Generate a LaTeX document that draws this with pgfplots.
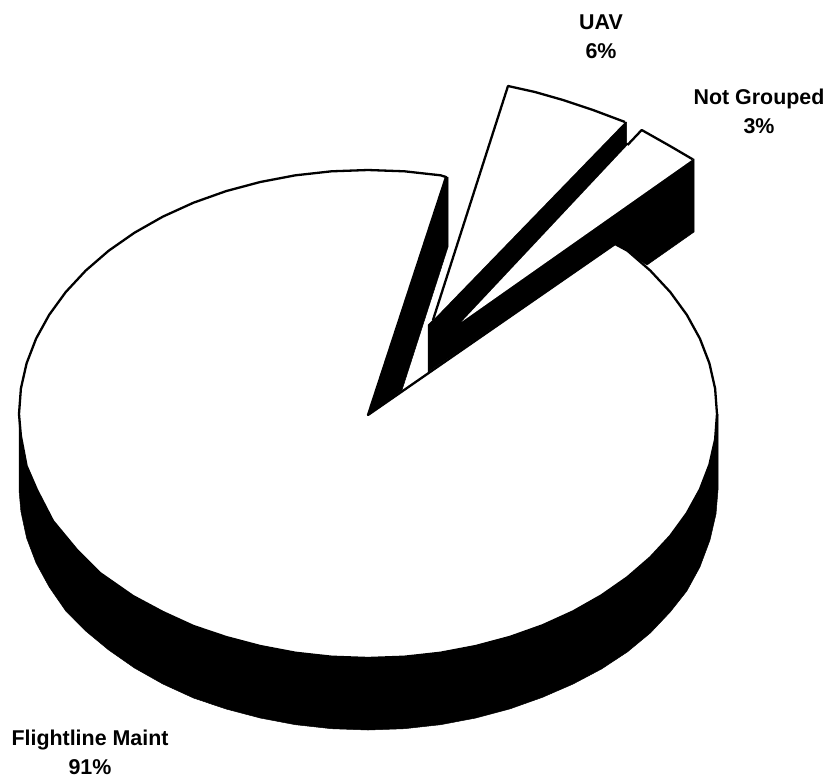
\documentclass[border=0pt]{standalone}
\usepackage{fontspec}
\setmainfont{Liberation Sans}
\usepackage{pgfplots}
\pgfplotsset{compat=1.18}

\begin{document}
\begin{tikzpicture}
\begin{axis}[
	width=828pt, height=780pt,
	scale only axis,
	hide axis,
	clip=false,
	xmin=0, xmax=828,
	ymin=0, ymax=780,
	y dir=reverse,
	every axis plot/.append style={line join=round, mark=none},
]
% keeps the page as large as the reference
\path (axis cs:0,0) rectangle (axis cs:828,780);
% side of the big slice
\addplot[fill=black, draw=black, line width=0.5pt] coordinates {
(19,414) (19,490) (20.9,511.5) (26.6,538) (36.1,563) (49.2,587) (65.8,611)
(85.7,631) (108.7,650) (134.5,668) (162.9,684) (193.5,698) (226.1,709)
(260.2,718) (295.4,724.7) (331.5,728.7) (368,730) (404.5,728.7) (440.6,724.7)
(475.8,718) (509.9,708.9) (542.5,697.3) (573.1,684) (601.5,669) (627.3,652)
(650.3,633) (670.2,612) (686.8,591) (699.9,567) (710,540) (716,514)
(718,490) (718,414)
} -- cycle;
% cut wall of the big slice
\addplot[fill=black, draw=black, line width=0.5pt] coordinates {
(368,415) (446.5,177) (448,177) (448,247) (402,390)
} -- cycle;
% walls of the two pulled out slices
\addplot[fill=black, draw=black, line width=0.5pt] coordinates {
(428,325) (433,320) (625,122) (626.5,122) (626.5,143) (694,159) (694,232) (647,265)
(615,244) (428,372)
} -- cycle;
% Flightline Maint
\addplot[fill=white, draw=black, line width=2.3pt] coordinates {
(368,415) (446,177) (440.6,175.3) (404.5,171.3) (368,170) (331.5,171.3) (295.4,175.3)
(260.2,182) (226.1,191.1) (193.5,202.7) (162.9,216.6) (134.5,232.7) (108.7,250.7)
(85.7,270.6) (65.8,292) (49.2,314.8) (36.1,338.6) (26.6,363.3) (20.9,388.5) (19,414)
(20.9,436) (26.6,466) (37,490) (53,521) (77,550) (100,573)
(133,596) (162.9,612) (193.5,626) (226.1,637) (260.2,646)
(295.4,652.7) (331.5,656.7) (368,658) (404.5,656.7) (440.6,652.7) (475.8,646)
(509.9,636.9) (542.5,625.3) (573.1,611.4) (601.5,595.3) (627.3,577.3) (650.3,557.4)
(670.2,536) (686.8,513.2) (699.9,489.4) (709.4,464.7) (715.1,439.5) (717,414)
(715.1,388.5) (709.4,363.3) (699.9,338.6) (686.8,314.8) (670.2,292) (650.3,270.6)
(627.4,250.7) (615,244)
} -- cycle;
% UAV
\addplot[fill=white, draw=none] coordinates {
(433,320) (508,86) (535,92) (563,100) (593,110) (625,122)
} -- cycle;
\addplot[draw=black, line width=2.3pt] coordinates {
(433,320) (508,86) (535,92) (563,100) (593,110) (625,122)
};
% Not Grouped
\addplot[fill=white, draw=none] coordinates {
(461.7,321.7) (641.7,130) (670,146) (692.7,159.3)
} -- cycle;
\addplot[draw=black, line width=2.3pt] coordinates {
(627.5,145) (641.7,130) (670,146) (692.7,159.3)
};

\node[font=\fontsize{21.4}{29}\selectfont\bfseries, align=center, inner sep=0pt] at (axis cs:90,752) {Flightline Maint\\91\%};
\node[font=\fontsize{21.4}{29}\selectfont\bfseries, align=center, inner sep=0pt] at (axis cs:601,37) {UAV\\6\%};
\node[font=\fontsize{21.4}{29}\selectfont\bfseries, align=center, inner sep=0pt] at (axis cs:759,111) {Not Grouped\\3\%};
\end{axis}
\end{tikzpicture}
\end{document}
